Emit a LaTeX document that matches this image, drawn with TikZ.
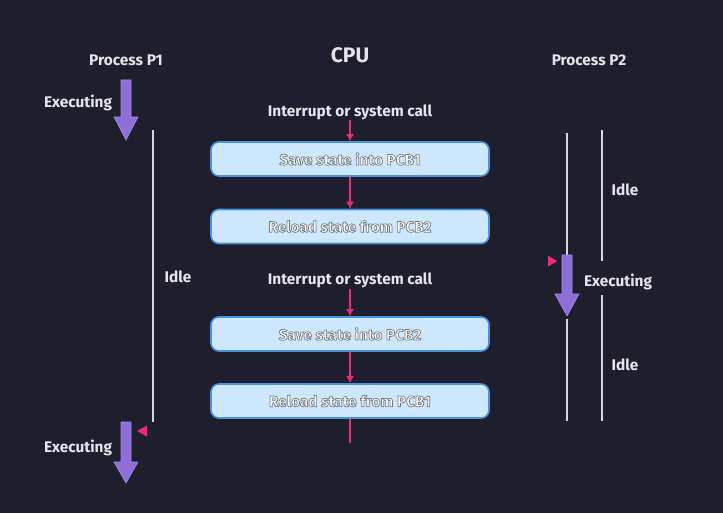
\documentclass[tikz,border=0pt]{standalone}
\usepackage{fontspec}
\setmainfont{Fira Sans}
\definecolor{bg}{HTML}{1E1E2C}
\definecolor{txt}{HTML}{E4E4EA}
\definecolor{pline}{HTML}{D6D6DE}
\definecolor{purp}{HTML}{8E6FD8}
\definecolor{purpedge}{HTML}{A48AE6}
\definecolor{pink}{HTML}{F0287A}
\definecolor{boxfill}{HTML}{CDE7FF}
\definecolor{boxedge}{HTML}{4A92DC}
\newcommand{\outlinetext}[1]{\special{pdf:literal direct 2 Tr 0.7 w 0.45 0.47 0.5 RG}#1\special{pdf:literal direct 0 Tr}}
\begin{document}
\begin{tikzpicture}[x=1pt,y=-1pt,
  lbl/.style={text=txt,font=\fontsize{15.4}{17}\selectfont\bfseries,yshift=-1.5pt},
  stepbox/.style={draw=boxedge,line width=1.6pt,fill=boxfill,rounded corners=8pt,
    minimum width=278pt,minimum height=34pt,inner sep=0pt,
    font=\fontsize{15.3}{17}\selectfont\bfseries,text=white},
  idleline/.style={draw=pline,line width=2.6pt},
  flow/.style={draw=pink,line width=1.6pt,-{Latex[length=7pt,width=8pt]}},
  purparrow/.style={fill=purp,draw=purpedge,line width=0.6pt}]
\usetikzlibrary{arrows.meta}
\fill[bg] (0,0) rectangle (723,513);
\useasboundingbox (0,0) rectangle (723,513);

% headers
\node[lbl] (p1) at (126,59) {Process P1};
\node[text=txt,font=\fontsize{21}{24}\selectfont\bfseries,yshift=-1pt] (cpu) at (350,54) {CPU};
\node[lbl] (p2) at (589,59) {Process P2};

% P1
\node[lbl] (ex1) at (78,101) {Executing};
\draw[purparrow] (121,80) -- (131,80) -- (131,117) -- (138,117) -- (126,140) -- (114,117) -- (121,117) -- cycle;
\coordinate (p1top) at (153,130);
\coordinate (p1bot) at (153,422);
\draw[idleline] (p1top) -- (p1bot);
\node[lbl] (idle1) at (178,275) {Idle};
\node[lbl] (ex2) at (78,446) {Executing};
\draw[purparrow] (121,422) -- (131,422) -- (131,462) -- (138,462) -- (126,483) -- (114,462) -- (121,462) -- cycle;
\fill[pink] (137,431) -- (147,425.5) -- (147,436.5) -- cycle;

% P2
\coordinate (a1) at (567,133);
\coordinate (a2) at (567,255);
\coordinate (a3) at (567,319);
\coordinate (a4) at (567,421);
\draw[idleline] (a1) -- (a2);
\draw[idleline] (a3) -- (a4);
\draw[purparrow] (562,255) -- (572,255) -- (572,294) -- (579,294) -- (567,316) -- (555,294) -- (562,294) -- cycle;
\coordinate (b1) at (602,130);
\coordinate (b2) at (602,261);
\coordinate (b3) at (602,295);
\coordinate (b4) at (602,421);
\draw[idleline] (b1) -- (b2);
\draw[idleline] (b3) -- (b4);
\node[lbl] (idle2) at (625,188) {Idle};
\node[lbl] (ex3) at (618,280) {Executing};
\node[lbl] (idle3) at (625,363) {Idle};
\fill[pink] (557,261) -- (548,255.5) -- (548,266.5) -- cycle;

% CPU
\node[lbl] (int1) at (350,111) {Interrupt or system call};
\node[stepbox] (s1) at (350,159) {\outlinetext{Save state into PCB1}};
\node[stepbox] (r2) at (350,226.5) {\outlinetext{Reload state from PCB2}};
\node[lbl] (int2) at (350,279) {Interrupt or system call};
\node[stepbox] (s2) at (350,334) {\outlinetext{Save state into PCB2}};
\node[stepbox] (r1) at (350,401) {\outlinetext{Reload state from PCB1}};
\coordinate (c0) at (350,120);
\coordinate (c1) at (350,289);
\coordinate (c2) at (350,443);
\draw[flow] (c0) -- (s1.north);
\draw[flow] (s1.south) -- (r2.north);
\draw[flow] (c1) -- (s2.north);
\draw[flow] (s2.south) -- (r1.north);
\draw[draw=pink,line width=1.6pt] (r1.south) -- (c2);
\end{tikzpicture}
\end{document}
